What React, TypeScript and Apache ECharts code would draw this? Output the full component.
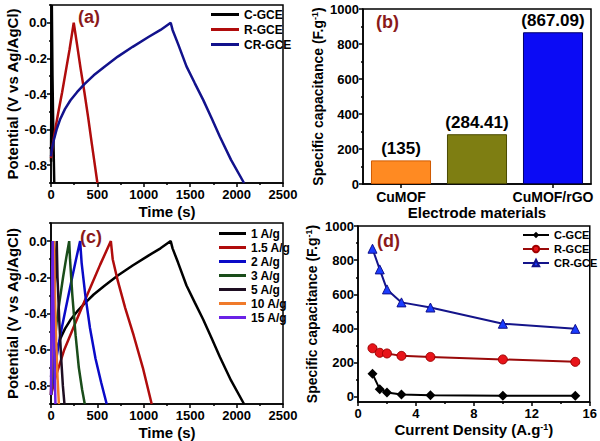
import { useEffect, useRef } from "react";
import * as echarts from "echarts";

// ---------- Panel (a): GCD curves ----------
const aCGceTime = [0, 5, 9, 16, 25, 35];
const aCGceV = [-0.78, -0.3, 0.1, -0.3, -0.62, -0.9];
const aRGceTime = [0, 20, 45, 80, 120, 160, 200, 245, 280, 320, 360, 400, 440, 470, 500];
const aRGceV = [-0.76, -0.68, -0.6, -0.5, -0.39, -0.27, -0.15, 0.0, -0.12, -0.26, -0.39, -0.53, -0.68, -0.79, -0.9];
const aCrGceTime = [0, 10, 30, 60, 100, 150, 210, 280, 360, 460, 580, 720, 880, 1050, 1180, 1290, 1310, 1370, 1460, 1550, 1640, 1730, 1820, 1940, 2080];
const aCrGceV = [-0.75, -0.71, -0.66, -0.6, -0.54, -0.485, -0.435, -0.39, -0.345, -0.295, -0.245, -0.19, -0.135, -0.08, -0.04, 0.0, -0.04, -0.12, -0.245, -0.34, -0.433, -0.535, -0.64, -0.77, -0.9];

// ---------- Panel (b): specific capacitance bars ----------
const bCategories = ["CuMOF", "rGO", "CuMOF/rGO"];
const bValues = [135, 284.41, 867.09];
const bLabels = ["(135)", "(284.41)", "(867.09)"];

// ---------- Panel (c): GCD at different current densities ----------
const cNames = ["1 A/g", "1.5 A/g", "2 A/g", "3 A/g", "5 A/g", "10 A/g", "15 A/g"];
const c1Time = [0, 10, 30, 60, 100, 150, 210, 280, 360, 460, 580, 720, 880, 1050, 1180, 1290, 1310, 1370, 1460, 1550, 1640, 1730, 1820, 1940, 2080];
const c1V = [-0.75, -0.71, -0.66, -0.6, -0.54, -0.485, -0.435, -0.39, -0.345, -0.295, -0.245, -0.19, -0.135, -0.08, -0.04, 0.0, -0.04, -0.12, -0.245, -0.34, -0.433, -0.535, -0.64, -0.77, -0.9];
const c15Time = [0, 50, 143, 240, 330, 430, 530, 645, 665, 720, 800, 890, 990, 1085];
const c15V = [-0.85, -0.75, -0.6, -0.48, -0.37, -0.25, -0.13, 0.0, -0.1, -0.22, -0.37, -0.52, -0.7, -0.9];
const c2Time = [0, 40, 100, 160, 220, 270, 314, 330, 370, 420, 480, 540, 600];
const c2V = [-0.85, -0.7, -0.52, -0.37, -0.22, -0.1, 0.0, -0.12, -0.3, -0.48, -0.65, -0.78, -0.9];
const c3Time = [0, 30, 60, 90, 130, 165, 196, 205, 230, 265, 300, 335, 364];
const c3V = [-0.85, -0.62, -0.45, -0.34, -0.2, -0.09, 0.0, -0.1, -0.3, -0.52, -0.7, -0.82, -0.9];
const c5Time = [0, 15, 35, 50, 62, 70, 90, 110, 128, 145];
const c5V = [-0.85, -0.6, -0.3, -0.12, 0.0, -0.2, -0.45, -0.65, -0.8, -0.9];
const c10Time = [0, 10, 22, 32, 40, 55, 70, 85];
const c10V = [-0.85, -0.5, -0.2, 0.0, -0.25, -0.55, -0.75, -0.9];
const c15AgTime = [0, 5, 12, 18, 24, 34, 48];
const c15AgV = [-0.85, -0.5, -0.2, 0.0, -0.3, -0.6, -0.9];

// ---------- Panel (d): rate capability ----------
const dDensity = [1, 1.5, 2, 3, 5, 10, 15];
const dCGce = [135, 45, 25, 14, 10, 6, 6];
const dRGce = [284.41, 258, 254, 240, 234, 219, 205];
const dCrGce = [867.09, 746, 629, 553, 523, 428, 398];

// ---------- tick labels ----------
const potTicks = [-0.8, -0.6, -0.4, -0.2, 0.0];
const potMinor = [-0.9, -0.7, -0.5, -0.3, -0.1, 0.1];
const capTicks = [0, 200, 400, 600, 800, 1000];
const capMinor = [100, 300, 500, 700, 900];

const FONT = "'Liberation Sans', Arial, sans-serif";
const zip = (xs: number[], ys: number[]) => xs.map((x, i) => [x, ys[i]]);

const lbl = (size = 12) => ({ color: "#000", fontWeight: "bold" as const, fontSize: size, fontFamily: FONT });
const axisLine = { show: true, onZero: false, lineStyle: { color: "#000", width: 1.5 } };
const plain = (v: number) => String(v);

export default function App() {
  const ref = useRef<HTMLDivElement>(null);
  useEffect(() => {
    if (!ref.current) return;
    const chart = echarts.init(ref.current, undefined, { renderer: "svg" });

    const nameStyle = (size = 15) => ({
      ...lbl(size),
      rich: { sup: { fontSize: 9, fontWeight: "bold", fontFamily: FONT, color: "#000", verticalAlign: "top", padding: [0, 0, 6, 0] } },
    });

    const timeAxis = (grid: number) => ({
      type: "value", gridIndex: grid, min: 0, max: 2500, interval: 500,
      axisLine, axisTick: { show: true, length: 4, lineStyle: { color: "#000", width: 1.5 } },
      minorTick: { show: true, splitNumber: 2, length: 2, lineStyle: { color: "#000", width: 1.5 } },
      axisLabel: { ...lbl(13), margin: 5, formatter: plain }, splitLine: { show: false },
      name: "Time (s)", nameLocation: "middle", nameGap: 21, nameTextStyle: nameStyle(15),
    });
    const potAxis = (grid: number) => ({
      type: "value", gridIndex: grid, min: -0.9, max: 0.1,
      axisLine,
      axisTick: { show: true, length: 4, customValues: potTicks, lineStyle: { color: "#000", width: 1.5 } },
      axisLabel: { ...lbl(13), margin: 4, customValues: potTicks, formatter: (v: number) => v.toFixed(1) },
      splitLine: { show: false },
      name: "Potential (V vs Ag/AgCl)", nameLocation: "middle", nameGap: 31, nameTextStyle: nameStyle(15),
    });
    const minorAxis = (grid: number, min: number, max: number, vals: number[]) => ({
      type: "value", gridIndex: grid, min, max, position: "left",
      axisLine: { show: false },
      axisTick: { show: true, length: 2, customValues: vals, lineStyle: { color: "#000", width: 1.5 } },
      axisLabel: { show: false }, splitLine: { show: false },
    });

    const gridBase = { show: true, borderColor: "#000", borderWidth: 1.5, backgroundColor: "transparent", containLabel: false };

    const lineSeries = (name: string, data: number[][], color: string, xi: number, yi: number) => ({
      type: "line", name, data, xAxisIndex: xi, yAxisIndex: yi, symbol: "none", showSymbol: false,
      lineStyle: { color, width: 2.5 }, itemStyle: { color }, z: 3,
    });

    const cColors = ["#000000", "#b00c0c", "#0a0ac8", "#1a4d1a", "#1e0e22", "#f07a2a", "#6a22e6"];
    const cData = [zip(c1Time, c1V), zip(c15Time, c15V), zip(c2Time, c2V), zip(c3Time, c3V), zip(c5Time, c5V), zip(c10Time, c10V), zip(c15AgTime, c15AgV)];

    const option: any = {
      animation: false,
      textStyle: { fontFamily: FONT },
      grid: [
        { ...gridBase, left: 51, top: 5, width: 232, height: 178 },
        { ...gridBase, left: 363, top: 9, width: 228, height: 175 },
        { ...gridBase, left: 51, top: 223, width: 232, height: 181 },
        { ...gridBase, left: 358, top: 226, width: 234, height: 176 },
      ],
      xAxis: [
        timeAxis(0),
        {
          type: "category", gridIndex: 1, data: bCategories,
          axisLine, axisTick: { show: true, alignWithLabel: true, length: 4, lineStyle: { color: "#000", width: 1.5 } },
          axisLabel: { ...lbl(14), margin: 6 }, splitLine: { show: false },
          name: "Electrode materials", nameLocation: "middle", nameGap: 21, nameTextStyle: nameStyle(15),
        },
        timeAxis(2),
        {
          type: "value", gridIndex: 3, min: 0, max: 16, interval: 4,
          axisLine, axisTick: { show: true, length: 4, lineStyle: { color: "#000", width: 1.5 } },
          minorTick: { show: true, splitNumber: 2, length: 2, lineStyle: { color: "#000", width: 1.5 } },
          axisLabel: { ...lbl(13), margin: 5, formatter: plain }, splitLine: { show: false },
          name: "Current Density (A.g{sup|-1})", nameLocation: "middle", nameGap: 20, nameTextStyle: nameStyle(15),
        },
      ],
      yAxis: [
        potAxis(0),
        minorAxis(0, -0.9, 0.1, potMinor),
        {
          type: "value", gridIndex: 1, min: 0, max: 1000, interval: 200,
          axisLine, axisTick: { show: true, length: 4, lineStyle: { color: "#000", width: 1.5 } },
          minorTick: { show: true, splitNumber: 2, length: 2, lineStyle: { color: "#000", width: 1.5 } },
          axisLabel: { ...lbl(13), margin: 4, formatter: plain }, splitLine: { show: false },
          name: "Specific capacitance (F.g{sup|-1})", nameLocation: "middle", nameGap: 38, nameTextStyle: nameStyle(14),
        },
        potAxis(2),
        minorAxis(2, -0.9, 0.1, potMinor),
        {
          type: "value", gridIndex: 3, min: -30, max: 1000,
          axisLine,
          axisTick: { show: true, length: 4, customValues: capTicks, lineStyle: { color: "#000", width: 1.5 } },
          axisLabel: { ...lbl(13), margin: 4, customValues: capTicks, formatter: plain }, splitLine: { show: false },
          name: "Specific capacitance (F.g{sup|-1})", nameLocation: "middle", nameGap: 39, nameTextStyle: nameStyle(14),
        },
        minorAxis(3, -30, 1000, capMinor),
      ],
      legend: [
        {
          data: ["C-GCE", "R-GCE", "CR-GCE"], orient: "vertical", left: 211, top: 8, padding: 0,
          icon: "rect", itemWidth: 28, itemHeight: 3, itemGap: 2, textStyle: { ...lbl(12), lineHeight: 13 }, selectedMode: false,
        },
        {
          data: cNames, orient: "vertical", left: 219, top: 227, padding: 0,
          icon: "rect", itemWidth: 27, itemHeight: 3, itemGap: 1, textStyle: { ...lbl(12), lineHeight: 13 }, selectedMode: false,
        },
        {
          data: ["C-GCE ", "R-GCE ", "CR-GCE "], orient: "vertical", left: 522, top: 229, padding: 0,
          itemWidth: 26, itemHeight: 8, itemGap: 2, textStyle: { ...lbl(11), lineHeight: 12 }, selectedMode: false,
          formatter: (n: string) => n.trim(),
        },
      ],
      series: [
        lineSeries("C-GCE", zip(aCGceTime, aCGceV), "#000000", 0, 0),
        lineSeries("R-GCE", zip(aRGceTime, aRGceV), "#b00c0c", 0, 0),
        lineSeries("CR-GCE", zip(aCrGceTime, aCrGceV), "#12128c", 0, 0),
        {
          type: "bar", xAxisIndex: 1, yAxisIndex: 2, barWidth: "79%",
          data: bValues.map((v, i) => ({
            value: v,
            itemStyle: [
              { color: "#ff8a22", borderColor: "#d05a00", borderWidth: 1 },
              { color: "#7e7e12", borderColor: "#4a4a00", borderWidth: 1 },
              { color: "#0b0bf5", borderColor: "#00006a", borderWidth: 1 },
            ][i],
          })),
          label: { show: true, position: "top", distance: 3, ...lbl(17), formatter: (p: any) => bLabels[p.dataIndex] },
        },
        ...cNames.map((n, i) => lineSeries(n, cData[i], cColors[i], 2, 3)),
        {
          type: "line", name: "C-GCE ", xAxisIndex: 3, yAxisIndex: 5, data: zip(dDensity, dCGce),
          symbol: "diamond", symbolSize: 10, lineStyle: { color: "#000", width: 2 }, itemStyle: { color: "#000" },
        },
        {
          type: "line", name: "R-GCE ", xAxisIndex: 3, yAxisIndex: 5, data: zip(dDensity, dRGce),
          symbol: "circle", symbolSize: 9, lineStyle: { color: "#9a0a0a", width: 2 },
          itemStyle: { color: "#e8141a", borderColor: "#a00000", borderWidth: 1 },
        },
        {
          type: "line", name: "CR-GCE ", xAxisIndex: 3, yAxisIndex: 5, data: zip(dDensity, dCrGce),
          symbol: "triangle", symbolSize: 9, lineStyle: { color: "#14148a", width: 2 },
          itemStyle: { color: "#1a3cff", borderColor: "#10108a", borderWidth: 1 },
        },
      ],
      graphic: [
        { type: "text", left: 78, top: 8, style: { text: "(a)", font: `bold 18px ${FONT}`, fill: "#8b1a1a" } },
        { type: "text", left: 376, top: 13, style: { text: "(b)", font: `bold 18px ${FONT}`, fill: "#8b1a1a" } },
        { type: "text", left: 80, top: 228, style: { text: "(c)", font: `bold 18px ${FONT}`, fill: "#8b1a1a" } },
        { type: "text", left: 377, top: 232, style: { text: "(d)", font: `bold 18px ${FONT}`, fill: "#8b1a1a" } },
      ],
    };
    chart.setOption(option);
    return () => chart.dispose();
  }, []);
  return <div ref={ref} style={{ position: "absolute", left: 0, top: 0, width: 600, height: 441, background: "#fff" }} />;
}
